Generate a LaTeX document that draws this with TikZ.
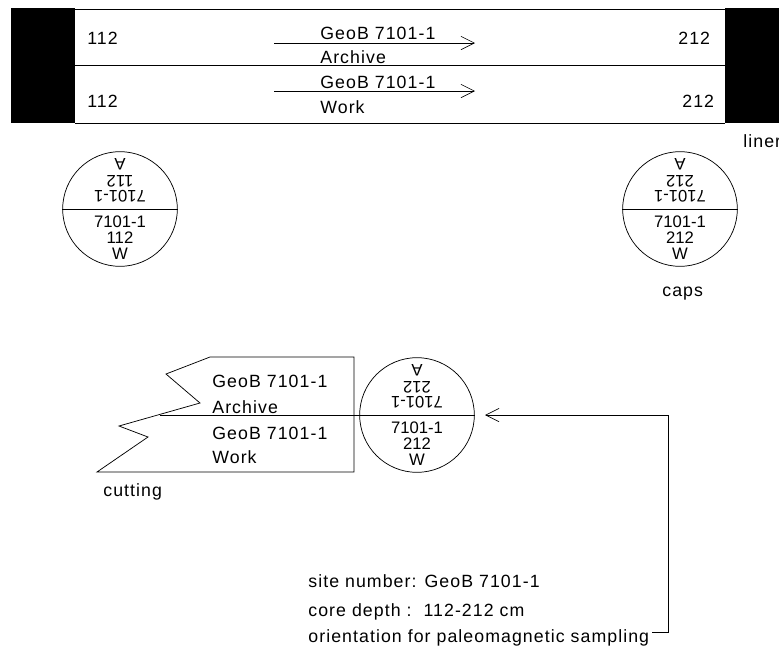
\documentclass[tikz,border=0pt]{standalone}
\usepackage{fontspec}
\setmainfont{Liberation Sans}
\newfontfamily\spacedfont[LetterSpace=6]{Liberation Sans}
\usetikzlibrary{arrows.meta}
\tikzset{
    >={Straight Barb[length=10pt,width=10pt,line width=0.5pt]},
    every path/.style={line width=0.55pt},
    label/.style={anchor=base west,inner sep=0pt,font=\spacedfont\fontsize{13.3}{15}\selectfont},
    capface/.style={inner sep=0pt,font=\fontsize{12.5}{14}\selectfont},
    capcircle/.style={draw,circle,inner sep=0pt,minimum size=86pt}
}

\begin{document}
\begin{tikzpicture}[x=0.75pt,y=-0.75pt]
        \useasboundingbox (0,0) rectangle (779,647);
        % liner
        \fill (11,8) rectangle (75,123);
        \fill (725,8) rectangle (779,123);
        \draw (75,9) -- (725,9);
        \draw (75,65.5) -- (725,65.5);
        \draw (75,123) -- (725,123);
        \node[label] (topstart) at (87,44) {112};
        \node[label] (botstart) at (87,107) {112};
        \node[label] (topend) at (678,44) {212};
        \node[label] (botend) at (682,107) {212};
        \node[label] (topsite) at (320,39) {GeoB 7101-1};
        \node[label] (tophalf) at (320,63) {Archive};
        \node[label] (botsite) at (320,88) {GeoB 7101-1};
        \node[label] (bothalf) at (320,113) {Work};
        \node[label] (liner) at (743,147) {liner};
        \coordinate (topfrom) at (274,43);
        \coordinate (topto) at (475,43);
        \coordinate (botfrom) at (274,91);
        \coordinate (botto) at (475,91);
        \draw[->] (topfrom) -- (topto);
        \draw[->] (botfrom) -- (botto);
        % caps
        \foreach \cx/\cy/\depth/\capname in {120/209/112/capleft,680/209/212/capright,417/415/212/capcut} {
            \node[capcircle] (\capname) at (\cx,\cy) {};
            \draw (\capname.west) -- (\capname.east);
            \node[capface] at (\cx,\cy+13) {7101-1};
            \node[capface] at (\cx,\cy+29) {\depth};
            \node[capface] at (\cx,\cy+45) {W};
            \node[capface,rotate=180] at (\cx,\cy-13) {7101-1};
            \node[capface,rotate=180] at (\cx,\cy-28) {\depth};
            \node[capface,rotate=180] at (\cx,\cy-45) {A};
        }
        \node[label] (caps) at (662,296) {caps};
        % cutting
        \draw (354,357) -- (210,357) -- (166,374) -- (200,403) -- (119,426)
            -- (148,437) -- (97,472) -- (354,472) -- cycle;
        \coordinate (cutstart) at (160,415);
        \draw (cutstart) -- (capcut.west);
        \node[label] (cutsite) at (212,387) {GeoB 7101-1};
        \node[label] (cuthalf) at (212,413) {Archive};
        \node[label] (cutsitetwo) at (212,439) {GeoB 7101-1};
        \node[label] (cutwork) at (212,463) {Work};
        \node[label] (cutting) at (103,496) {cutting};
        % notes
        \node[label] (site) at (308,587) {site number: GeoB 7101-1};
        \node[label] (depth) at (308,616) {core depth :\ \ 112-212 cm};
        \node[label] (orient) at (308,642) {orientation for paleomagnetic sampling};
        \coordinate (orientend) at (652,632);
        \coordinate (capto) at (485,415);
        \draw[->] (orientend) -- (668,632) -- (668,415) -- (capto);
\end{tikzpicture}
\end{document}
